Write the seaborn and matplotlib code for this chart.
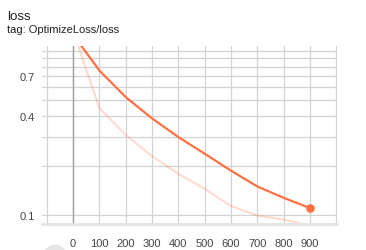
import matplotlib
matplotlib.use("Agg")
import matplotlib.pyplot as plt
from matplotlib.patches import Circle
from matplotlib.ticker import FixedLocator, FixedFormatter, NullLocator
import seaborn as sns
import pandas as pd

steps = [0, 100, 200, 300, 400, 500, 600, 700, 800, 900]
loss_smoothed = [1.25, 0.757, 0.522, 0.388, 0.299, 0.237, 0.187, 0.150, 0.128, 0.111]
loss_raw = [1.32, 0.448, 0.308, 0.229, 0.179, 0.145, 0.114, 0.100, 0.0946, 0.0866]

title = "loss"
subtitle = "tag: OptimizeLoss/loss"
x_grid = [-100, 0, 100, 200, 300, 400, 500, 600, 700, 800, 900, 1000]
x_labels = ["", "0", "100", "200", "300", "400", "500", "600", "700", "800", "900", ""]
y_grid = [0.1, 0.2, 0.3, 0.4, 0.5, 0.6, 0.7, 0.8, 0.9, 1.0]
y_labels = ["0.1", "", "", "0.4", "", "", "0.7", "", "", ""]

sns.set_style("white")
plt.rcParams["font.family"] = ["Liberation Sans", "DejaVu Sans"]

W, H = 366, 251
fig = plt.figure(figsize=(W / 100, H / 100), dpi=100)
left, right, top, bottom = 42.3, 337.0, 46.7, 225.0
ax = fig.add_axes([left / W, 1 - bottom / H, (right - left) / W, (bottom - top) / H])

df = pd.DataFrame({"step": steps, "smoothed": loss_smoothed, "raw": loss_raw})
color = "#ff7043"

sns.lineplot(data=df, x="step", y="raw", ax=ax, color=color, alpha=0.25, lw=1.5)
sns.lineplot(data=df, x="step", y="smoothed", ax=ax, color=color, lw=1.6)
ax.plot(df["step"].iloc[-1:], df["smoothed"].iloc[-1:], "o", color=color, ms=6.2, mec="none", zorder=5)

ax.set_yscale("log")
ax.set_xlim(-117, 1003)
ax.set_ylim(0.0888, 1.07)

ax.xaxis.set_major_locator(FixedLocator(x_grid))
ax.xaxis.set_major_formatter(FixedFormatter(x_labels))
ax.yaxis.set_major_locator(FixedLocator(y_grid))
ax.yaxis.set_major_formatter(FixedFormatter(y_labels))
ax.yaxis.set_minor_locator(NullLocator())
ax.xaxis.set_minor_locator(NullLocator())

ax.grid(True, color="#d3d3d3", lw=0.9)
ax.axvline(0, color="#a0a0a0", lw=1.0, zorder=1)

for s in ["top", "right", "left"]:
    ax.spines[s].set_visible(False)
ax.spines["bottom"].set_color("#e4e4e4")
ax.spines["bottom"].set_linewidth(2.0)

ax.tick_params(axis="x", length=2.5, color="#d3d3d3", width=0.9, pad=7.5, labelsize=8, labelcolor="#444444")
ax.tick_params(axis="y", length=0, pad=5, labelsize=8, labelcolor="#444444")
ax.set_xlabel("")
ax.set_ylabel("")

fig.text(7 / W, 1 - 19.5 / H, title, fontsize=9.6, color="#212121", va="baseline", ha="left")
fig.text(7 / W, 1 - 33 / H, subtitle, fontsize=8.0, color="#212121", va="baseline", ha="left")

fig.patches.append(Circle((0.55, (H - 257.7) / 100), 0.12, transform=fig.dpi_scale_trans,
                          facecolor="#e6e6e6", edgecolor="none"))

fig.savefig("out.png", dpi=100)
